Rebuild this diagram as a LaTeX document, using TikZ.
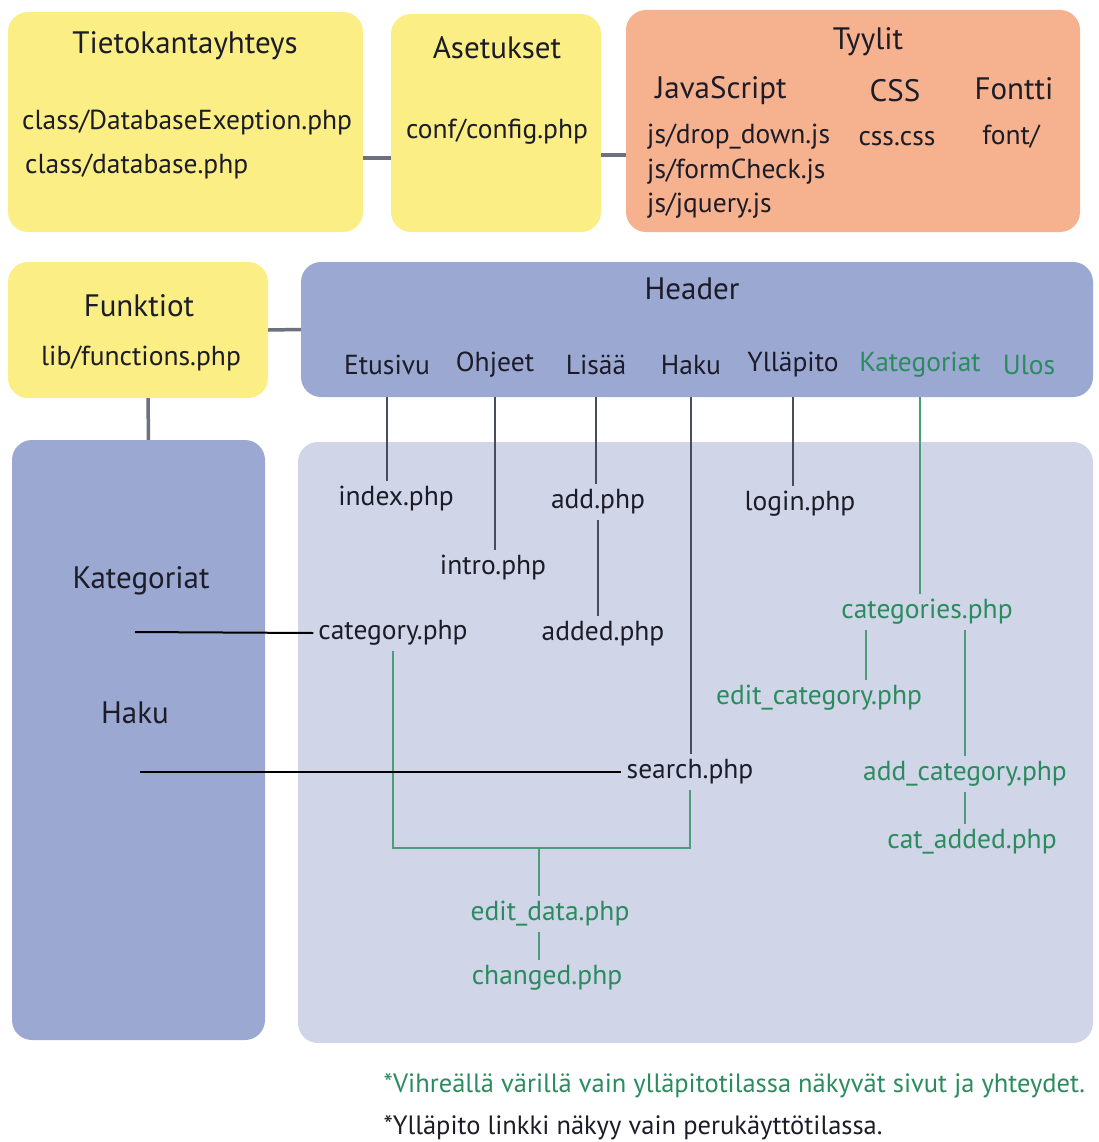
\documentclass[tikz,border=0pt]{standalone}
\usepackage{fontspec}
\setmainfont{PT Sans}
\usetikzlibrary{calc}
\usepackage{xcolor}

\definecolor{boxyellow}{RGB}{250,238,132}
\definecolor{boxsalmon}{RGB}{246,178,142}
\definecolor{boxblue}{RGB}{155,168,210}
\definecolor{boxpale}{RGB}{208,213,232}
\definecolor{admingreen}{RGB}{42,140,94}
\definecolor{linkgray}{RGB}{72,76,92}
\definecolor{inkdark}{RGB}{28,28,40}

\tikzset{
    panel/.style={rounded corners=20pt, inner sep=0pt},
    file/.style={font=\fontsize{27.5}{32}\selectfont, text=inkdark, inner sep=5pt},
    admin/.style={file, text=admingreen},
    title/.style={font=\fontsize{31}{36}\selectfont, text=inkdark, inner sep=4pt},
    note/.style={anchor=west, font=\fontsize{26.5}{30}\selectfont},
    link/.style={line width=2.8pt, draw=linkgray},
    adminlink/.style={line width=2.8pt, draw=admingreen!85},
    joinline/.style={line width=3.5pt, draw=linkgray!80},
}

\begin{document}
\begin{tikzpicture}[x=1pt, y=-1pt]
    \useasboundingbox (0,0) rectangle (1099,1142);

    % Top row of boxes
    \node[panel, fill=boxyellow, minimum width=355pt, minimum height=220pt] (tieto) at (185.5,122) {};
    \node[panel, fill=boxyellow, minimum width=210pt, minimum height=218pt] (aset) at (496,123) {};
    \node[panel, fill=boxsalmon, minimum width=454pt, minimum height=222pt] (tyylit) at (853,121) {};

    \node[title] (tietoT) at (185,46) {Tietokantayhteys};
    \node[file, anchor=west] (dbex) at (17,122) {class/DatabaseExeption.php};
    \node[file, anchor=west] (dbcl) at (20,166) {class/database.php};

    \node[title] (asetT) at (497,48) {Asetukset};
    \node[file] (conf) at (497,132) {conf/config.php};

    \node[title] (tyylitT) at (868,42) {Tyylit};
    \node[title] (jsT) at (721,91) {JavaScript};
    \node[title] (cssT) at (895,91) {CSS};
    \node[title] (fontT) at (1014,89) {Fontti};
    \node[file, anchor=west] (js1) at (642,137) {js/drop\_down.js};
    \node[file, anchor=west] (js2) at (642,172) {js/formCheck.js};
    \node[file, anchor=west] (js3) at (642,206) {js/jquery.js};
    \node[file] (css) at (897,139) {css.css};
    \node[file] (fontdir) at (1011,137) {font/};

    \draw[joinline] ([yshift=-36pt]tieto.east) -- ([yshift=-36pt]tieto.east -| aset.west);
    \draw[joinline] ([yshift=-32pt]aset.east) -- ([yshift=-32pt]aset.east -| tyylit.west);

    % Functions and header
    \node[panel, fill=boxyellow, minimum width=260pt, minimum height=136pt] (funk) at (138,330) {};
    \node[panel, fill=boxblue, minimum width=792pt, minimum height=135pt] (header) at (697,329.5) {};
    \draw[joinline] (funk.east) -- (header.west);

    \node[title] (funkT) at (139,306) {Funktiot};
    \node[file] (funcs) at (141,358) {lib/functions.php};
    \node[title] (headerT) at (692,289) {Header};

    \node[file] (etusivu) at (387,365) {Etusivu};
    \node[file] (ohjeet) at (495,365) {Ohjeet};
    \node[file] (lisaa) at (596,365) {Lisää};
    \node[file] (haku) at (691,365) {Haku};
    \node[file] (yllapito) at (793,365) {Ylläpito};
    \node[admin] (kategoriat) at (920,365) {Kategoriat};
    \node[admin] (ulos) at (1029,365) {Ulos};

    % Side box and page area
    \node[panel, fill=boxblue, minimum width=253pt, minimum height=600pt] (side) at (138.5,740) {};
    \node[panel, fill=boxpale, minimum width=795pt, minimum height=601pt] (pages) at (695.5,742.5) {};
    \draw[joinline] ([xshift=10pt]funk.south) -- ([xshift=10pt]side.north);

    \node[title] (sideKat) at (141,581) {Kategoriat};
    \node[title] (sideHaku) at (135,713) {Haku};

    \node[file] (index) at (396,499) {index.php};
    \node[file] (add) at (598,502) {add.php};
    \node[file] (login) at (800,504) {login.php};
    \node[file] (intro) at (493,568) {intro.php};
    \node[file] (category) at (393,633) {category.php};
    \node[file] (added) at (603,634) {added.php};
    \node[file] (search) at (690,772) {search.php};
    \node[admin] (categories) at (927,612) {categories.php};
    \node[admin] (editcat) at (819,698) {edit\_category.php};
    \node[admin] (addcat) at (965,774) {add\_category.php};
    \node[admin] (catadded) at (972,842) {cat\_added.php};
    \node[admin] (editdata) at (550,914) {edit\_data.php};
    \node[admin] (changed) at (547,978) {changed.php};

    % Menu links
    \foreach \m/\p in {etusivu/index, ohjeet/intro, lisaa/add, haku/search, yllapito/login} {
        \draw[link] (\m |- header.south) -- (\m |- \p.north);
    }
    \draw[link] (add.south) -- (add.south |- added.north);
    \draw[adminlink] (kategoriat |- header.south) -- (kategoriat |- categories.north);

    % Admin pages
    \draw[adminlink] ([xshift=-61pt]categories.south) -- ([xshift=-61pt]categories.south |- editcat.north);
    \draw[adminlink] (addcat.north) -- (addcat.north |- categories.south);
    \draw[adminlink] (addcat.south) -- (addcat.south |- catadded.north);

    \coordinate (join) at (539,848);
    \draw[adminlink] (category.south) |- (join) -| (search.south);
    \draw[adminlink] (join) -- (join |- editdata.north);
    \draw[adminlink] (join |- editdata.south) -- (join |- changed.north);

    % Side box links
    \coordinate (katEnd) at (135,632);
    \coordinate (hakuEnd) at (140,772);
    \draw[line width=2pt, black] (katEnd) -- (category.west);
    \draw[line width=2pt, black] (hakuEnd) -- (search.west);

    % Notes
    \node[note, text=admingreen] (note1) at (380,1086) {*Vihreällä värillä vain ylläpitotilassa näkyvät sivut ja yhteydet.};
    \node[note, text=inkdark] (note2) at (380,1128) {*Ylläpito linkki näkyy vain perukäyttötilassa.};
\end{tikzpicture}
\end{document}
